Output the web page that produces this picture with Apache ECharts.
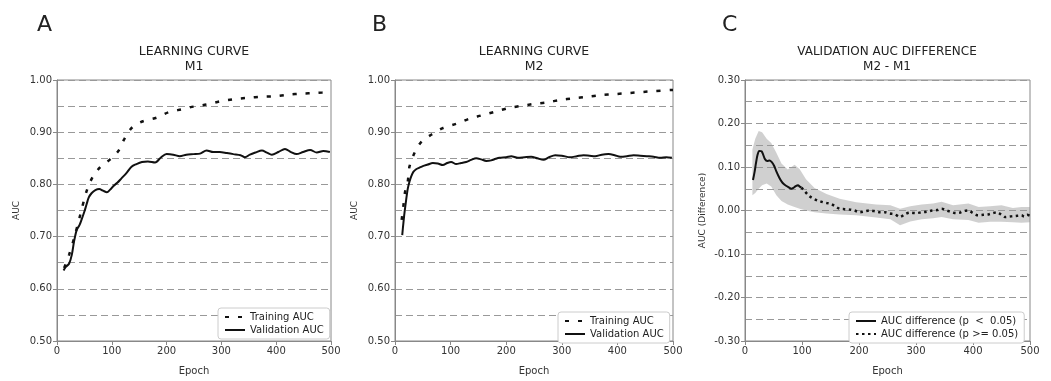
<!DOCTYPE html>
<html>
<head>
<meta charset="utf-8">
<script src="https://cdn.jsdelivr.net/npm/echarts@6/dist/echarts.min.js"></script>
<style>
  html, body { margin: 0; padding: 0; background: #fff; }
  #chart { width: 1051px; height: 381px; }
</style>
</head>
<body>
<div id="chart"></div>
<script>
// panel A - M1 learning curve [epoch, auc]
const m1Train = [[13,0.64],[22,0.665],[32,0.70],[42,0.74],[54,0.787],[64,0.812],[78,0.832],[97,0.848],[112,0.864],[123,0.887],[137,0.909],[157,0.921],[182,0.928],[203,0.938],[228,0.944],[249,0.949],[273,0.953],[297,0.959],[322,0.963],[349,0.966],[374,0.968],[398,0.969],[422,0.972],[447,0.974],[471,0.975],[500,0.977]];
const m1Valid = [[12,0.635],[16,0.642],[22,0.648],[27,0.665],[31,0.69],[36,0.713],[41,0.722],[45,0.733],[50,0.748],[54,0.762],[58,0.775],[63,0.783],[70,0.789],[77,0.791],[84,0.788],[91,0.785],[97,0.79],[103,0.797],[110,0.803],[118,0.812],[127,0.822],[136,0.834],[145,0.839],[155,0.843],[166,0.844],[179,0.842],[190,0.852],[200,0.858],[212,0.857],[224,0.854],[236,0.857],[249,0.858],[261,0.859],[273,0.865],[285,0.862],[297,0.862],[310,0.86],[322,0.858],[335,0.856],[343,0.852],[352,0.857],[362,0.861],[374,0.865],[383,0.861],[392,0.857],[404,0.862],[416,0.868],[427,0.862],[437,0.858],[449,0.862],[462,0.866],[474,0.861],[486,0.864],[498,0.862]];

// panel B - M2 learning curve
const m2Train = [[12,0.732],[15,0.758],[18,0.785],[23,0.806],[26,0.834],[35,0.86],[47,0.881],[65,0.895],[86,0.908],[110,0.916],[134,0.926],[155,0.932],[179,0.939],[203,0.946],[225,0.95],[249,0.954],[273,0.957],[298,0.962],[321,0.965],[346,0.968],[370,0.971],[396,0.973],[420,0.975],[444,0.977],[468,0.979],[500,0.981]];
const m2Valid = [[13,0.703],[15,0.725],[17,0.745],[20,0.77],[23,0.792],[26,0.805],[29,0.815],[33,0.824],[38,0.829],[44,0.832],[50,0.835],[59,0.838],[68,0.841],[77,0.84],[86,0.837],[94,0.841],[101,0.843],[110,0.839],[119,0.841],[128,0.843],[137,0.847],[146,0.85],[155,0.848],[164,0.845],[173,0.846],[181,0.849],[188,0.851],[200,0.852],[209,0.854],[221,0.851],[233,0.852],[245,0.853],[256,0.85],[267,0.847],[277,0.852],[288,0.856],[300,0.855],[315,0.852],[327,0.854],[339,0.856],[350,0.855],[360,0.854],[372,0.857],[384,0.858],[395,0.856],[405,0.853],[417,0.854],[429,0.856],[441,0.855],[453,0.854],[465,0.853],[477,0.851],[488,0.852],[498,0.851]];

// panel C - validation AUC difference (M2 - M1)
const diffSig = [[14,0.07],[17,0.09],[19,0.107],[22,0.128],[25,0.137],[29,0.136],[32,0.128],[35,0.118],[39,0.114],[43,0.115],[47,0.111],[51,0.103],[55,0.09],[60,0.076],[64,0.067],[68,0.061],[72,0.057],[77,0.053],[81,0.05],[85,0.052],[89,0.056],[93,0.058],[96,0.055],[99,0.053]];
const diffNs = [[99,0.053],[105,0.044],[113,0.033],[122,0.026],[130,0.022],[137,0.019],[144,0.017],[151,0.015],[159,0.009],[166,0.004],[175,0.003],[184,0.002],[192,0.0],[201,-0.004],[210,-0.002],[219,0.0],[229,-0.002],[237,-0.004],[245,-0.004],[254,-0.007],[263,-0.009],[272,-0.015],[280,-0.009],[289,-0.005],[300,-0.006],[310,-0.004],[319,-0.003],[328,0.0],[337,0.001],[345,0.004],[354,0.0],[363,-0.004],[370,-0.006],[377,-0.005],[385,-0.001],[392,0.0],[400,-0.006],[409,-0.011],[418,-0.01],[427,-0.009],[435,-0.006],[442,-0.004],[449,-0.009],[456,-0.015],[463,-0.014],[471,-0.013],[478,-0.012],[485,-0.011],[490,-0.014],[495,-0.01],[500,-0.012]];
const bandEpoch = [13,18,24,30,38,46,55,64,75,87,96,107,122,143,166,195,230,255,272,290,310,330,345,365,392,410,430,450,470,485,500];
const bandLow   = [0.035,0.04,0.05,0.058,0.062,0.055,0.035,0.022,0.014,0.008,0.004,0.0,-0.004,-0.007,-0.009,-0.011,-0.016,-0.02,-0.034,-0.025,-0.02,-0.018,-0.015,-0.02,-0.022,-0.028,-0.026,-0.026,-0.027,-0.028,-0.027];
const bandHigh  = [0.14,0.165,0.183,0.18,0.165,0.155,0.133,0.108,0.094,0.105,0.095,0.072,0.052,0.038,0.027,0.019,0.014,0.012,0.004,0.01,0.014,0.016,0.02,0.012,0.016,0.008,0.01,0.012,0.006,0.008,0.008];

const font = 'DejaVu Sans';
const grids = [
  { left: 57, top: 80, width: 274, height: 267 },
  { left: 395, top: 80, width: 278, height: 271 },
  { left: 745, top: 80, width: 285, height: 270 }
];

function xAx(i) {
  return {
    type: 'value', gridIndex: i, min: 0, max: 500, interval: 100,
    name: 'Epoch', nameLocation: 'middle', nameGap: 25,
    nameTextStyle: { fontFamily: font, fontSize: 10, color: '#333' },
    axisLine: { show: true, onZero: false, lineStyle: { color: '#888' } },
    axisTick: { show: true, length: 4, lineStyle: { color: '#888' } },
    axisLabel: { fontFamily: font, fontSize: 10, color: '#333', margin: 5 },
    splitLine: { show: false }
  };
}
function yAx(i, min, max, name, gap) {
  return {
    type: 'value', gridIndex: i, min: min, max: max, interval: 0.1,
    name: name, nameLocation: 'middle', nameGap: gap,
    nameTextStyle: { fontFamily: font, fontSize: 9, color: '#333' },
    axisLine: { show: true, onZero: false, lineStyle: { color: '#888' } },
    axisTick: { show: true, length: 4, lineStyle: { color: '#888' } },
    axisLabel: { fontFamily: font, fontSize: 10, color: '#333', margin: 5,
      formatter: v => v.toFixed(2) },
    minorTick: { show: false, splitNumber: 2 },
    splitLine: { show: true, lineStyle: { color: '#999', type: [7, 4], width: 1 } },
    minorSplitLine: { show: true, lineStyle: { color: '#999', type: [7, 4], width: 1 } }
  };
}

const trainStyle = { color: '#111', width: 2.5, type: [4, 9] };
const validStyle = { color: '#111', width: 2 };

function line(name, data, i, style, smooth) {
  return {
    type: 'line', name: name, data: data, xAxisIndex: i, yAxisIndex: i,
    symbol: 'none', smooth: smooth, lineStyle: style, itemStyle: { color: '#111' },
    animation: false, z: 5
  };
}

const legendBase = {
  orient: 'vertical', itemWidth: 20, itemHeight: 10, itemGap: 3,
  padding: [4, 6], borderColor: '#ccc', borderWidth: 1, borderRadius: 3,
  backgroundColor: '#fff',
  itemStyle: { opacity: 0 },
  textStyle: { fontFamily: font, fontSize: 10, color: '#222' }
};

function label(text, x, y, size, align) {
  return { type: 'text', x: x, y: y,
    style: { text: text, fontFamily: font, fontSize: size, fill: '#222', align: align || 'left', verticalAlign: 'middle' } };
}

const chart = echarts.init(document.getElementById('chart'));
chart.setOption({
  backgroundColor: '#fff',
  animation: false,
  grid: grids.map(g => Object.assign({ show: true, borderColor: '#888', borderWidth: 1, backgroundColor: 'transparent' }, g)),
  xAxis: [xAx(0), xAx(1), xAx(2)],
  yAxis: [yAx(0, 0.5, 1.0, 'AUC', 36), yAx(1, 0.5, 1.0, 'AUC', 36), yAx(2, -0.3, 0.3, 'AUC (Difference)', 38)],
  legend: [
    Object.assign({}, legendBase, { left: 218, top: 308, data: ['Training AUC', 'Validation AUC'] }),
    Object.assign({}, legendBase, { left: 558, top: 312, data: ['Training AUC', 'Validation AUC'] }),
    Object.assign({}, legendBase, { left: 849, top: 312, data: ['AUC difference (p  <  0.05)', 'AUC difference (p >= 0.05)'] })
  ],
  graphic: [
    label('A', 37, 25, 22), label('B', 372, 25, 22), label('C', 722, 25, 22),
    label('LEARNING CURVE', 194, 52, 12.5, 'center'), label('M1', 194, 67, 12.5, 'center'),
    label('LEARNING CURVE', 534, 52, 12.5, 'center'), label('M2', 534, 67, 12.5, 'center'),
    label('VALIDATION AUC DIFFERENCE', 887, 52, 12, 'center'), label('M2 - M1', 887, 67, 12, 'center')
  ],
  series: [
    line('Training AUC', m1Train, 0, trainStyle, 0.3),
    line('Validation AUC', m1Valid, 0, validStyle, 0.3),
    line('Training AUC', m2Train, 1, trainStyle, 0.3),
    line('Validation AUC', m2Valid, 1, validStyle, 0.3),
    {
      // confidence band drawn as a polygon through the axis scales
      type: 'custom', name: 'band', xAxisIndex: 2, yAxisIndex: 2, silent: true, z: 2,
      data: [[0, 0]],
      renderItem: function (params, api) {
        const upper = bandEpoch.map((e, k) => api.coord([e, bandHigh[k]]));
        const lower = bandEpoch.map((e, k) => api.coord([e, bandLow[k]])).reverse();
        return {
          type: 'polygon',
          shape: { points: upper.concat(lower) },
          style: { fill: 'rgba(150,150,150,0.45)', stroke: null }
        };
      }
    },
    line('AUC difference (p  <  0.05)', diffSig, 2, validStyle, 0.3),
    line('AUC difference (p >= 0.05)', diffNs, 2, { color: '#111', width: 2.5, type: [2.5, 3.5] }, 0.3)
  ]
});
</script>
</body>
</html>
